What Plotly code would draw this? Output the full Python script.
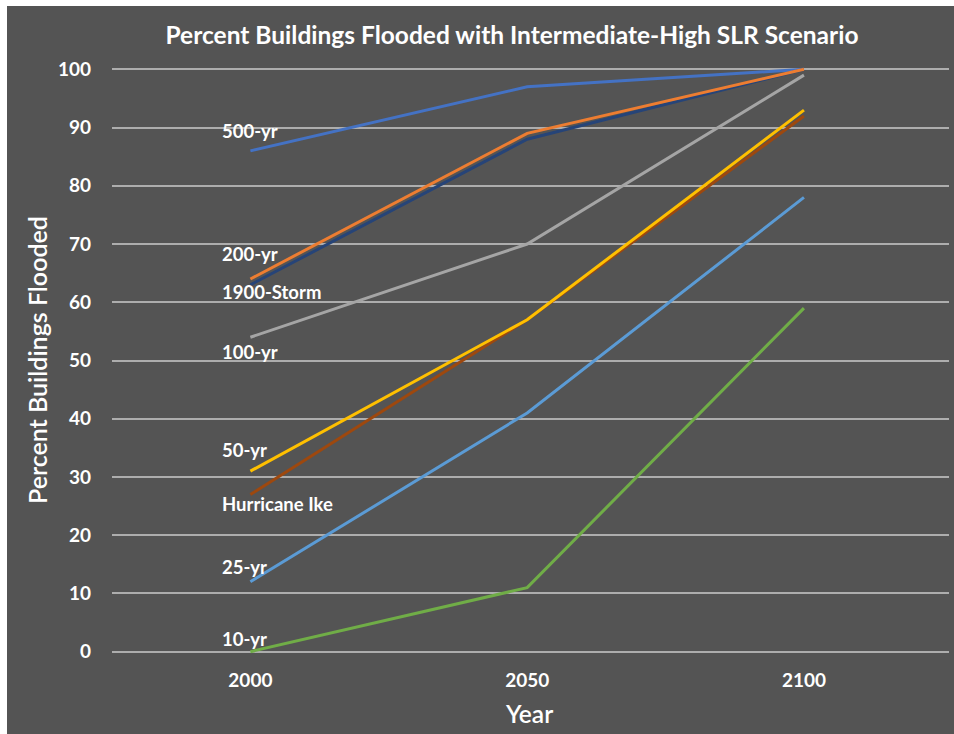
import plotly.graph_objects as go

# Scenario years and percent of buildings flooded per storm event
years = [2000, 2050, 2100]

series_names = ["500-yr", "1900-Storm", "200-yr", "100-yr", "Hurricane Ike", "50-yr", "25-yr", "10-yr"]
pct_500yr = [86, 97, 100]
pct_1900storm = [63, 88, 100]
pct_200yr = [64, 89, 100]
pct_100yr = [54, 70, 99]
pct_ike = [27, 57, 92]
pct_50yr = [31, 57, 93]
pct_25yr = [12, 41, 78]
pct_10yr = [0, 11, 59]

series_values = [pct_500yr, pct_1900storm, pct_200yr, pct_100yr, pct_ike, pct_50yr, pct_25yr, pct_10yr]
series_colors = ["#4472C4", "#264478", "#ED7D31", "#A5A5A5", "#9E480E", "#FFC000", "#5B9BD5", "#70AD47"]

# Inline series labels placed beside the 2000 end of each line
label_texts = ["500-yr", "200-yr", "1900-Storm", "100-yr", "50-yr", "Hurricane Ike", "25-yr", "10-yr"]
label_levels = [89.4, 68.3, 61.8, 51.5, 34.6, 25.3, 14.5, 2.2]

W, H = 954, 734
L, R, T, B = 112, 5, 67, 80
PW, PH = W - L - R, H - T - B
BG = "#545454"
FONT = "Lato"


def px_x(px):
    return (px - L) / PW


def px_y(py):
    return (H - B - py) / PH


fig = go.Figure()
for name, vals, col in zip(series_names, series_values, series_colors):
    fig.add_trace(go.Scatter(
        x=years, y=vals, mode="lines", name=name,
        line=dict(color=col, width=3), showlegend=False,
    ))

annotations = []
for txt, lvl in zip(label_texts, label_levels):
    annotations.append(dict(
        x=years[0], y=lvl, xref="x", yref="y", text=txt, showarrow=False,
        xanchor="left", yanchor="middle", xshift=-30,
        font=dict(family=FONT, size=18.5, color="white", weight="bold"),
    ))

# Axis titles
annotations.append(dict(
    x=px_x(37), y=px_y(360), xref="paper", yref="paper", text="Percent Buildings Flooded",
    showarrow=False, textangle=-90, xanchor="center", yanchor="middle",
    font=dict(family=FONT, size=25, color="white", weight=600),
))
annotations.append(dict(
    x=px_x(529), y=px_y(713), xref="paper", yref="paper", text="Year",
    showarrow=False, xanchor="center", yanchor="middle",
    font=dict(family=FONT, size=24.5, color="white", weight=600),
))

# Thin white frame strips along the top and left edges
shapes = [
    dict(type="rect", xref="paper", yref="paper", x0=px_x(0), x1=px_x(W + 2), y0=px_y(6), y1=px_y(-2),
         fillcolor="white", line=dict(width=0), layer="above"),
    dict(type="rect", xref="paper", yref="paper", x0=px_x(-2), x1=px_x(7), y0=px_y(H + 2), y1=px_y(-2),
         fillcolor="white", line=dict(width=0), layer="above"),
]

fig.update_layout(
    width=W, height=H,
    margin=dict(l=L, r=R, t=T, b=B, autoexpand=False),
    paper_bgcolor=BG, plot_bgcolor=BG,
    title=dict(
        text="<b>Percent Buildings Flooded with Intermediate-High SLR Scenario</b>",
        x=512 / W, xanchor="center",
        y=1 - 35 / H, yanchor="middle", xref="container", yref="container",
        font=dict(family=FONT, size=24.5, color="white"),
    ),
    xaxis=dict(
        range=[1975, 2126.2], tickvals=years, ticktext=[str(y) for y in years],
        showgrid=False, zeroline=False, showline=False, ticks="",
        ticklabelstandoff=13,
        tickfont=dict(family=FONT, size=19, color="white", weight="bold"),
    ),
    yaxis=dict(
        range=[-0.4, 100.4], tick0=0, dtick=10,
        showgrid=True, gridcolor="#ADADAD", gridwidth=2,
        zeroline=False, showline=False, ticks="",
        ticklabelstandoff=20,
        tickfont=dict(family=FONT, size=19, color="white", weight="bold"),
    ),
    annotations=annotations,
    shapes=shapes,
)

fig.write_html("out.html")
